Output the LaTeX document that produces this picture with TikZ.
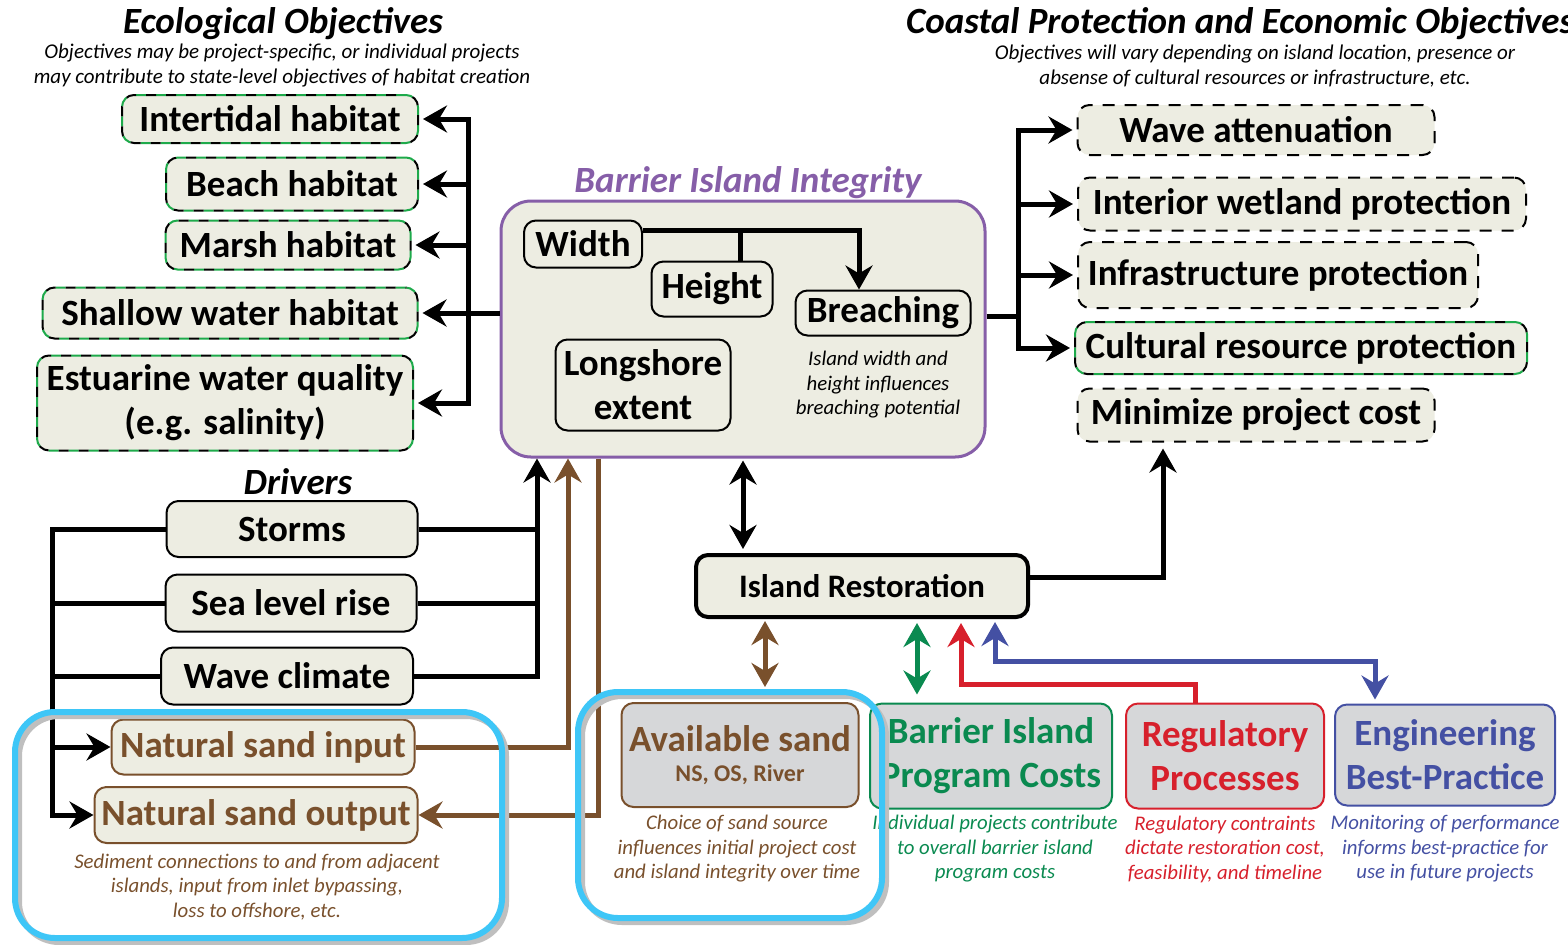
\documentclass[tikz,border=0pt]{standalone}
\usepackage{fontspec}
\setmainfont{Carlito}
\usetikzlibrary{arrows.meta}
\definecolor{boxfill}{RGB}{237,237,226}
\definecolor{greyfill}{RGB}{214,215,217}
\definecolor{islandpurple}{RGB}{134,94,168}
\definecolor{sandbrown}{RGB}{121,80,44}
\definecolor{costgreen}{RGB}{10,138,80}
\definecolor{dashgreen}{RGB}{30,170,75}
\definecolor{regred}{RGB}{215,32,44}
\definecolor{engblue}{RGB}{68,80,163}
\definecolor{focuscyan}{RGB}{62,198,247}
\tikzset{
  bigtext/.style={font=\fontsize{18.5}{22}\selectfont\bfseries},
  titletext/.style={font=\fontsize{18.5}{22}\selectfont\bfseries\itshape},
  subtext/.style={font=\fontsize{10.5}{12.5}\selectfont\itshape, align=center},
  notetext/.style={font=\fontsize{10.4}{12.25}\selectfont\itshape, align=center},
  basebox/.style={bigtext, rounded corners=6pt, inner sep=0pt, align=center, fill=boxfill, line width=1pt},
  ecobox/.style={basebox, draw=dashgreen, dash pattern=on 5pt off 5pt,
    postaction={draw=black, line width=1pt, dash pattern=on 5pt off 5pt, dash phase=5pt}},
  coastbox/.style={basebox, draw=black, dash pattern=on 6pt off 5pt},
  solidbox/.style={basebox, draw=black},
  sandbox/.style={basebox, draw=sandbrown, text=sandbrown},
  greybox/.style={basebox, fill=greyfill, draw=#1, text=#1},
  link/.style={line width=2.5pt},
  focus/.style={focuscyan, line width=3pt, rounded corners=20pt},
}
\begin{document}
\begin{tikzpicture}[x=0.5pt,y=-0.5pt,>={Stealth[length=12pt,width=13.5pt,inset=4pt]}]
  \useasboundingbox (0,0) rectangle (1568,944);
  % titles
  \node[titletext] (ecotitle) at (283,24) {Ecological Objectives};
  \node[subtext] (ecosub) at (282,66) {Objectives may be project-specific, or individual projects\\may contribute to state-level objectives of habitat creation};
  \node[titletext, anchor=west] (coasttitle) at (899,24) {Coastal Protection and Economic Objectives};
  \node[subtext] (coastsub) at (1255,66) {Objectives will vary depending on island location, presence or\\absense of cultural resources or infrastructure, etc.};
  \node[titletext] (drvtitle) at (298,482) {Drivers};
  \node[titletext, text=islandpurple] (bartitle) at (748,183) {Barrier Island Integrity};

  % ecological objectives
  \node[ecobox, minimum width=148pt, minimum height=24pt] (inter) at (270,119) {Intertidal habitat};
  \node[ecobox, minimum width=126pt, minimum height=26.5pt] (beach) at (292,184) {Beach habitat};
  \node[ecobox, minimum width=122.5pt, minimum height=24.5pt] (marsh) at (288,245) {Marsh habitat};
  \node[ecobox, minimum width=187.5pt, minimum height=25.5pt] (shallow) at (230,313) {Shallow water habitat};
  \node[ecobox, minimum width=188pt, minimum height=47.5pt] (estu) at (225,403) {Estuarine water quality\\(e.g. salinity)};

  % barrier island integrity
  \node[draw=islandpurple, line width=1.5pt, fill=boxfill, rounded corners=15pt, minimum width=242pt, minimum height=128pt] (barrier) at (743,329) {};
  \node[solidbox, minimum width=59pt, minimum height=23.5pt] (width) at (583,244) {Width};
  \node[solidbox, minimum width=60.5pt, minimum height=27.5pt] (height) at (712,289) {Height};
  \node[solidbox, minimum width=87.5pt, minimum height=22.5pt] (breach) at (883,313) {Breaching};
  \node[solidbox, minimum width=87.5pt, minimum height=45.5pt] (longshore) at (643,385) {Longshore\\extent};
  \node[notetext] (barnote) at (878,385) {Island width and\\height influences\\breaching potential};

  % coastal objectives
  \node[coastbox, minimum width=178.5pt, minimum height=25pt] (wave) at (1256,130) {Wave attenuation};
  \node[coastbox, minimum width=224pt, minimum height=26.5pt] (wetland) at (1302,204) {Interior wetland protection};
  \node[coastbox, minimum width=200pt, minimum height=33pt] (infra) at (1278,275) {Infrastructure protection};
  \node[ecobox, minimum width=226pt, minimum height=26pt] (cultural) at (1301,348) {Cultural resource protection};
  \node[coastbox, minimum width=178.5pt, minimum height=26.5pt] (mincost) at (1256,415) {Minimize project cost};

  % restoration and drivers
  \node[solidbox, line width=2pt, font=\fontsize{16.4}{20}\selectfont\bfseries, minimum width=166pt, minimum height=31pt] (restor) at (862,586) {Island Restoration};
  \node[solidbox, minimum width=125.5pt, minimum height=28pt] (storms) at (292,529) {Storms};
  \node[solidbox, minimum width=125.5pt, minimum height=28.5pt] (slr) at (291,603) {Sea level rise};
  \node[solidbox, minimum width=126pt, minimum height=28.5pt] (wclim) at (287,676) {Wave climate};
  \node[sandbox, minimum width=151.5pt, minimum height=27.5pt] (nsin) at (263,747) {Natural sand input};
  \node[sandbox, minimum width=161.5pt, minimum height=28pt] (nsout) at (256,815) {Natural sand output};
  \node[notetext, text=sandbrown] (sednote) at (257,887) {Sediment connections to and from adjacent\\islands, input from inlet bypassing,\\loss to offshore, etc.};

  % project inputs
  \node[greybox=sandbrown, minimum width=118.5pt, minimum height=52pt] (avail) at (740,755) {Available sand\\[-7pt]{\fontsize{12}{14}\selectfont NS, OS, River}};
  \node[greybox=costgreen, minimum width=121pt, minimum height=52.5pt] (costs) at (991,756) {Barrier Island\\Program Costs};
  \node[greybox=regred, minimum width=99pt, minimum height=52.5pt] (reg) at (1225,756) {Regulatory\\Processes};
  \node[greybox=engblue, minimum width=110pt, minimum height=50.5pt] (eng) at (1445,755) {Engineering\\Best-Practice};
  \node[notetext, text=sandbrown] (availnote) at (737,849) {Choice of sand source\\influences initial project cost\\and island integrity over time};
  \node[notetext, text=costgreen] (costnote) at (995,849) {Individual projects contribute\\to overall barrier island\\program costs};
  \node[notetext, text=regred] (regnote) at (1225,849) {Regulatory contraints\\dictate restoration cost,\\feasibility, and timeline};
  \node[notetext, text=engblue] (engnote) at (1445,849) {Monitoring of performance\\informs best-practice for\\use in future projects};

  % connectors, ecological side
  \coordinate (ebus) at (468,316);
  \draw[link] (barrier.west |- shallow) -- (ebus |- shallow);
  \draw[link,<->,shorten <=2pt,shorten >=2pt] (estu.east) -| (ebus |- inter) -- (inter.east);
  \foreach \n in {beach,marsh,shallow}
    \draw[link,->,shorten >=2pt] (ebus |- \n) -- (\n.east);

  % connectors, coastal side
  \coordinate (cbus) at (1018,316);
  \draw[link] (barrier.east |- cbus) -- (cbus);
  \draw[link,<->,shorten <=2pt,shorten >=2pt] (wave.west) -| (cbus |- cultural) -- (cultural.west);
  \foreach \n in {wetland,infra}
    \draw[link,->,shorten >=2pt] (cbus |- \n) -- (\n.west);

  % inside the island box
  \coordinate (wbend) at (859,230);
  \coordinate (hbranch) at (740,230);
  \draw[link,->] (width.east |- wbend) -| ([xshift=-12pt]breach.north);
  \draw[link] (hbranch) -- (hbranch |- height.north);

  % island and restoration
  \draw[link,<->,shorten <=1pt,shorten >=2pt] (barrier.south) -- (barrier.south |- restor.north);
  \coordinate (rbend) at (1163,577);
  \draw[link,->,shorten >=3pt] (restor.east |- rbend) -| (rbend |- mincost.south);

  % drivers
  \coordinate (dleft) at (52,529);
  \coordinate (dright) at (537,676);
  \draw[link,->] (wclim.east) -| (dright |- barrier.south);
  \draw[link] (storms.east) -- (dright |- storms);
  \draw[link] (slr.east) -- (dright |- slr);
  \draw[link,->] (storms.west) -| (dleft |- nsout) -- (nsout.west);
  \draw[link] (slr.west) -- (dleft |- slr);
  \draw[link] (wclim.west) -- (dleft |- wclim);
  \draw[link,->] (dleft |- nsin) -- (nsin.west);

  % sand exchange and project inputs
  \draw[link,sandbrown,->] (nsin.east) -| ([xshift=-87.5pt]barrier.south);
  \draw[link,sandbrown,->] ([xshift=-72.5pt]barrier.south) |- (nsout.east);
  \draw[link,sandbrown,<->,shorten <=1pt,shorten >=7.5pt] ([xshift=-48.5pt]restor.south) -- ([xshift=-48.5pt]restor.south |- avail.north);
  \draw[link,costgreen,<->,shorten <=2pt,shorten >=4pt] ([xshift=27.5pt]restor.south) -- ([xshift=27.5pt]restor.south |- costs.north);
  \coordinate (redturn) at (961,684);
  \draw[link,regred,->,shorten >=2pt] ([xshift=-15pt]reg.north) |- (redturn) -- (redturn |- restor.south);
  \coordinate (blueturn) at (995,661);
  \draw[link,engblue,<->,shorten <=1.5pt,shorten >=2pt] (blueturn |- restor.south) -- (blueturn) -| ([xshift=-35pt]eng.north);

  % highlighted groups
  \draw[focus, black!25, line width=3pt] (19,716) rectangle (506,942);
  \draw[focus, black!25, line width=3pt] (582,696) rectangle (886,922);
  \draw[focus] (15,712) rectangle (502,938);
  \draw[focus] (578,692) rectangle (882,918);
\end{tikzpicture}
\end{document}
